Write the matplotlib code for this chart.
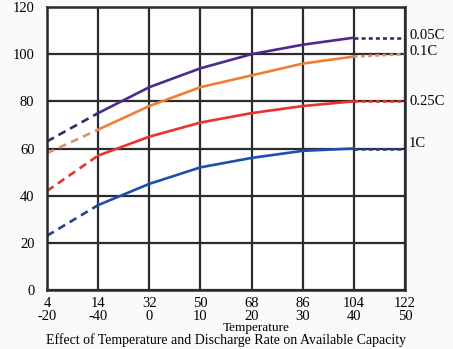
import matplotlib; matplotlib.use('Agg')
import matplotlib.pyplot as plt

# temperature axis labels (F on top, second row as printed)
temp_f = ["4", "14", "32", "50", "68", "86", "104", "122"]
temp_c = ["-20", "-40", "0", "10", "20", "30", "40", "50"]

# available capacity (%) at each temperature column
rates = ["0.05C", "0.1C", "0.25C", "1C"]
cap_005 = [63, 75, 86, 94, 100, 104, 107, 107]
cap_01 = [58, 68, 78, 86, 91, 96, 99, 100]
cap_025 = [42, 57, 65, 71, 75, 78, 80, 80]
cap_1 = [23, 36, 45, 52, 56, 59, 60, 60]
series = [cap_005, cap_01, cap_025, cap_1]

solid_colors = ["#4b2a8c", "#f07d35", "#e8342c", "#1c4fae"]
dash_colors = ["#2f2f66", "#d9946a", "#e8342c", "#2a3f8f"]
label_y = [108, 101, 80, 62]

fig = plt.figure(figsize=(4.53, 3.49), dpi=100, facecolor="#fafafa")
ax = fig.add_axes([47/453, 59/349, 358/453, 283/349])
ax.set_facecolor("white")

x = list(range(len(temp_f)))
for vals, sc, dc, name, ly in zip(series, solid_colors, dash_colors, rates, label_y):
    # measured part
    ax.plot(x[1:7], vals[1:7], color=sc, lw=1.9, solid_capstyle="round", solid_joinstyle="round")
    # extrapolated ends
    ax.plot(x[0:2], vals[0:2], color=dc, lw=1.9, ls=(0, (3, 2)))
    ax.plot(x[6:8], vals[6:8], color=dc, lw=1.9, ls=(0, (1.5, 1.2)))
    ax.text(7.08, ly, name, fontsize=10.5, family="Liberation Serif", va="center", ha="left",
            clip_on=False)

ax.set_xlim(0, 7)
ax.set_ylim(0, 120)
ax.set_xticks(x)
ax.set_xticklabels([f"{f}\n{c}" for f, c in zip(temp_f, temp_c)], family="Liberation Serif",
                   fontsize=10.5, linespacing=1.05)
ax.set_yticks(range(0, 121, 20))
ax.set_yticklabels([str(v) for v in range(0, 121, 20)], family="Liberation Serif", fontsize=10.5)
ax.tick_params(length=0, pad=5)
ax.tick_params(axis="y", pad=9)
ax.grid(True, color="#2b2b2b", lw=1.6)
for s in ax.spines.values():
    s.set_color("#2b2b2b"); s.set_linewidth(1.8)

fig.text(256/453, 1 - 328/349, "Temperature", family="Liberation Serif", fontsize=9.5,
         ha="center", va="center")
fig.text(226/453, 1 - 340/349, "Effect of Temperature and Discharge Rate on Available Capacity",
         family="Liberation Serif", fontsize=10, ha="center", va="center")

plt.savefig("out.png", dpi=100, facecolor=fig.get_facecolor())
